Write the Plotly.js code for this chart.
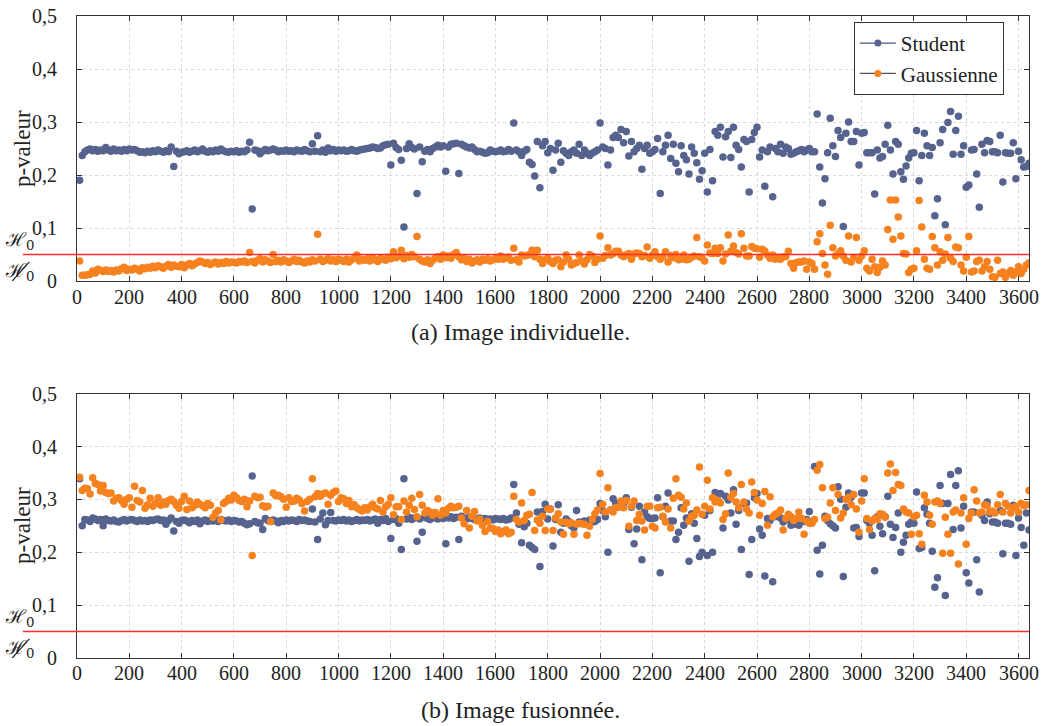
<!DOCTYPE html>
<html>
<head>
<meta charset="utf-8">
<script src="https://cdn.plot.ly/plotly-3.0.1.min.js"></script>
<style>html,body{margin:0;padding:0;background:#fff;}#chart{width:1042px;height:726px;}</style>
</head>
<body>
<div id="chart"></div>
<script>
// Frame step between samples (x axis = image index)
const frameStep = 10;

// (a) Image individuelle — Student
const indivStudent = [
0.190,0.237,0.244,0.247,0.249,0.246,0.248,0.245,0.247,0.246,
0.252,0.247,0.245,0.249,0.246,0.247,0.245,0.248,0.246,0.249,
0.247,0.248,0.246,0.243,0.244,0.242,0.245,0.243,0.246,0.244,
0.247,0.245,0.243,0.246,0.244,0.253,0.216,0.245,0.240,0.243,
0.244,0.246,0.243,0.245,0.247,0.244,0.246,0.249,0.245,0.243,
0.246,0.244,0.247,0.245,0.249,0.246,0.244,0.243,0.245,0.244,
0.246,0.243,0.245,0.244,0.247,0.262,0.136,0.247,0.246,0.240,
0.245,0.248,0.246,0.247,0.249,0.247,0.244,0.246,0.245,0.247,
0.245,0.246,0.244,0.247,0.246,0.245,0.248,0.246,0.244,0.259,
0.245,0.274,0.244,0.247,0.243,0.251,0.246,0.248,0.245,0.247,
0.246,0.247,0.245,0.246,0.248,0.246,0.245,0.247,0.248,0.249,
0.250,0.251,0.253,0.252,0.250,0.251,0.255,0.257,0.258,0.219,
0.260,0.252,0.248,0.228,0.102,0.250,0.259,0.252,0.249,0.165,
0.253,0.225,0.245,0.248,0.244,0.250,0.253,0.256,0.253,0.255,
0.207,0.253,0.258,0.259,0.260,0.203,0.258,0.255,0.253,0.251,
0.253,0.248,0.244,0.245,0.243,0.241,0.242,0.247,0.245,0.244,
0.245,0.247,0.244,0.245,0.248,0.245,0.298,0.247,0.244,0.237,
0.245,0.248,0.224,0.220,0.198,0.263,0.176,0.255,0.263,0.242,
0.250,0.209,0.247,0.260,0.224,0.246,0.241,0.237,0.244,0.247,
0.241,0.258,0.237,0.247,0.241,0.237,0.241,0.244,0.247,0.298,
0.253,0.250,0.219,0.247,0.271,0.275,0.271,0.286,0.261,0.282,
0.236,0.263,0.244,0.250,0.256,0.211,0.250,0.256,0.241,0.244,
0.248,0.269,0.165,0.244,0.256,0.275,0.231,0.258,0.222,0.206,
0.255,0.237,0.229,0.202,0.253,0.241,0.223,0.192,0.208,0.241,
0.168,0.248,0.189,0.282,0.275,0.290,0.234,0.272,0.282,0.233,
0.290,0.256,0.248,0.215,0.267,0.263,0.168,0.267,0.280,0.290,
0.234,0.247,0.179,0.244,0.253,0.159,0.250,0.244,0.258,0.241,
0.253,0.250,0.239,0.241,0.244,0.246,0.248,0.244,0.247,0.250,
0.244,0.244,0.315,0.215,0.147,0.193,0.242,0.307,0.255,0.235,
0.284,0.271,0.103,0.279,0.300,0.263,0.263,0.282,0.219,0.279,
0.280,0.242,0.242,0.242,0.164,0.247,0.232,0.235,0.258,0.294,
0.247,0.202,0.263,0.258,0.206,0.192,0.217,0.232,0.241,0.242,
0.284,0.189,0.237,0.279,0.255,0.237,0.252,0.123,0.155,0.261,
0.286,0.106,0.299,0.320,0.239,0.284,0.311,0.239,0.255,0.177,
0.181,0.247,0.248,0.202,0.139,0.258,0.242,0.265,0.263,0.244,
0.244,0.242,0.275,0.187,0.242,0.241,0.241,0.261,0.193,0.245,
0.229,0.215,0.216,0.222
];

// (a) Image individuelle — Gaussienne
const indivGauss = [
0.038,0.011,0.011,0.012,0.013,0.019,0.015,0.022,0.020,0.018,
0.021,0.018,0.020,0.017,0.021,0.019,0.023,0.026,0.020,0.022,
0.021,0.024,0.022,0.019,0.025,0.023,0.026,0.024,0.028,0.025,
0.029,0.027,0.024,0.028,0.031,0.026,0.030,0.028,0.027,0.031,
0.025,0.030,0.033,0.029,0.032,0.035,0.038,0.036,0.033,0.035,
0.031,0.034,0.036,0.032,0.035,0.033,0.037,0.034,0.036,0.035,
0.034,0.037,0.036,0.038,0.035,0.054,0.037,0.034,0.039,0.042,
0.036,0.040,0.038,0.035,0.050,0.037,0.039,0.036,0.040,0.038,
0.035,0.038,0.041,0.037,0.039,0.036,0.034,0.038,0.036,0.040,
0.038,0.088,0.041,0.037,0.039,0.042,0.038,0.040,0.037,0.041,
0.039,0.037,0.041,0.036,0.040,0.043,0.049,0.038,0.041,0.039,
0.042,0.038,0.044,0.040,0.037,0.043,0.041,0.039,0.045,0.042,
0.055,0.044,0.047,0.058,0.042,0.048,0.045,0.050,0.046,0.084,
0.041,0.038,0.036,0.040,0.033,0.039,0.043,0.046,0.041,0.049,
0.044,0.047,0.043,0.050,0.054,0.046,0.040,0.043,0.037,0.041,
0.034,0.038,0.040,0.036,0.041,0.039,0.042,0.038,0.040,0.043,
0.041,0.047,0.041,0.044,0.045,0.039,0.062,0.040,0.036,0.049,
0.047,0.048,0.050,0.058,0.046,0.058,0.041,0.033,0.040,0.043,
0.037,0.033,0.039,0.040,0.027,0.036,0.049,0.041,0.030,0.033,
0.035,0.049,0.038,0.032,0.040,0.050,0.047,0.035,0.041,0.085,
0.043,0.048,0.063,0.049,0.052,0.056,0.056,0.049,0.046,0.049,
0.052,0.041,0.051,0.053,0.052,0.046,0.048,0.064,0.043,0.049,
0.055,0.046,0.041,0.046,0.055,0.036,0.048,0.044,0.050,0.040,
0.041,0.049,0.040,0.041,0.045,0.047,0.082,0.046,0.044,0.038,
0.068,0.053,0.052,0.062,0.052,0.063,0.038,0.051,0.087,0.056,
0.066,0.054,0.051,0.089,0.062,0.047,0.047,0.065,0.062,0.061,
0.045,0.060,0.056,0.049,0.043,0.049,0.041,0.045,0.041,0.046,
0.046,0.056,0.033,0.024,0.035,0.036,0.036,0.038,0.022,0.036,
0.033,0.022,0.074,0.089,0.052,0.030,0.013,0.105,0.063,0.047,
0.051,0.057,0.047,0.039,0.085,0.036,0.045,0.082,0.039,0.047,
0.057,0.024,0.019,0.041,0.027,0.016,0.026,0.038,0.030,0.097,
0.153,0.079,0.153,0.121,0.085,0.052,0.051,0.016,0.022,0.024,
0.057,0.152,0.102,0.041,0.024,0.022,0.084,0.063,0.030,0.055,
0.039,0.051,0.082,0.043,0.037,0.064,0.063,0.030,0.019,0.045,
0.084,0.017,0.019,0.037,0.039,0.019,0.027,0.037,0.022,0.008,
0.007,0.039,0.014,0.017,0.007,0.014,0.020,0.011,0.017,0.027,
0.014,0.022,0.030,0.034
];

// (b) Image fusionnée — Student
const fusedStudent = [
0.339,0.250,0.262,0.261,0.258,0.265,0.263,0.260,0.262,0.250,
0.263,0.260,0.259,0.261,0.258,0.257,0.260,0.262,0.259,0.261,
0.262,0.260,0.258,0.261,0.259,0.260,0.258,0.261,0.260,0.262,
0.263,0.260,0.261,0.253,0.260,0.265,0.240,0.258,0.255,0.260,
0.261,0.259,0.256,0.260,0.258,0.261,0.254,0.259,0.261,0.258,
0.260,0.259,0.261,0.258,0.262,0.260,0.259,0.261,0.258,0.260,
0.259,0.257,0.258,0.255,0.252,0.254,0.344,0.258,0.256,0.255,
0.243,0.264,0.260,0.258,0.261,0.259,0.256,0.260,0.258,0.261,
0.259,0.261,0.260,0.258,0.262,0.260,0.261,0.259,0.258,0.282,
0.257,0.224,0.263,0.274,0.252,0.260,0.275,0.260,0.259,0.261,
0.260,0.262,0.259,0.261,0.258,0.260,0.262,0.259,0.261,0.260,
0.262,0.259,0.261,0.263,0.255,0.262,0.260,0.264,0.258,0.226,
0.262,0.264,0.255,0.205,0.339,0.263,0.266,0.262,0.265,0.221,
0.263,0.238,0.266,0.264,0.262,0.267,0.265,0.263,0.266,0.264,
0.216,0.265,0.267,0.264,0.266,0.224,0.268,0.265,0.263,0.266,
0.264,0.262,0.263,0.265,0.263,0.264,0.262,0.263,0.261,0.264,
0.263,0.262,0.264,0.261,0.262,0.265,0.328,0.274,0.253,0.218,
0.248,0.255,0.213,0.209,0.205,0.276,0.173,0.277,0.291,0.263,
0.282,0.212,0.262,0.290,0.238,0.255,0.263,0.258,0.250,0.246,
0.279,0.257,0.256,0.259,0.255,0.261,0.257,0.258,0.262,0.292,
0.279,0.267,0.200,0.280,0.301,0.292,0.288,0.295,0.290,0.303,
0.243,0.285,0.216,0.244,0.287,0.186,0.276,0.267,0.264,0.264,
0.265,0.303,0.161,0.267,0.287,0.312,0.259,0.259,0.224,0.238,
0.284,0.251,0.265,0.183,0.273,0.255,0.226,0.192,0.200,0.270,
0.194,0.279,0.200,0.313,0.299,0.311,0.246,0.306,0.299,0.274,
0.318,0.253,0.279,0.205,0.292,0.293,0.158,0.224,0.303,0.311,
0.244,0.232,0.155,0.264,0.260,0.144,0.267,0.273,0.265,0.257,
0.264,0.262,0.251,0.255,0.253,0.251,0.264,0.258,0.262,0.277,
0.257,0.362,0.204,0.159,0.213,0.268,0.260,0.254,0.250,0.246,
0.324,0.300,0.154,0.285,0.312,0.304,0.246,0.247,0.230,0.312,
0.312,0.260,0.255,0.232,0.165,0.267,0.249,0.235,0.267,0.306,
0.253,0.228,0.247,0.274,0.200,0.219,0.232,0.253,0.257,0.255,
0.314,0.207,0.209,0.284,0.272,0.255,0.202,0.134,0.152,0.326,
0.292,0.118,0.292,0.347,0.243,0.326,0.354,0.246,0.287,0.161,
0.142,0.276,0.276,0.186,0.125,0.270,0.260,0.295,0.273,0.257,
0.257,0.255,0.279,0.197,0.255,0.255,0.253,0.289,0.194,0.265,
0.247,0.213,0.274,0.242
];

// (b) Image fusionnée — Gaussienne
const fusedGauss = [
0.342,0.317,0.321,0.320,0.310,0.341,0.330,0.328,0.316,0.326,
0.313,0.311,0.312,0.297,0.302,0.303,0.298,0.291,0.300,0.303,
0.285,0.325,0.298,0.295,0.317,0.283,0.290,0.302,0.287,0.292,
0.303,0.289,0.295,0.291,0.298,0.300,0.296,0.289,0.283,0.296,
0.306,0.281,0.297,0.284,0.289,0.295,0.291,0.288,0.284,0.292,
0.289,0.266,0.274,0.279,0.261,0.292,0.296,0.302,0.299,0.308,
0.303,0.298,0.296,0.300,0.286,0.297,0.194,0.306,0.303,0.304,
0.288,0.285,0.287,0.258,0.312,0.307,0.308,0.305,0.300,0.285,
0.303,0.296,0.297,0.302,0.299,0.292,0.278,0.296,0.300,0.339,
0.305,0.311,0.306,0.310,0.312,0.291,0.308,0.313,0.316,0.296,
0.303,0.301,0.292,0.298,0.286,0.290,0.284,0.281,0.278,0.284,
0.280,0.286,0.291,0.284,0.282,0.298,0.276,0.286,0.291,0.303,
0.271,0.286,0.286,0.262,0.297,0.276,0.289,0.302,0.281,0.267,
0.309,0.289,0.274,0.279,0.276,0.270,0.275,0.301,0.270,0.279,
0.274,0.283,0.287,0.284,0.285,0.287,0.265,0.254,0.279,0.246,
0.268,0.277,0.259,0.263,0.251,0.239,0.258,0.246,0.245,0.239,
0.242,0.235,0.239,0.242,0.235,0.238,0.306,0.262,0.257,0.293,
0.260,0.270,0.272,0.313,0.241,0.261,0.255,0.268,0.241,0.282,
0.282,0.241,0.265,0.273,0.257,0.234,0.257,0.254,0.256,0.234,
0.253,0.255,0.254,0.253,0.232,0.249,0.262,0.273,0.280,0.349,
0.291,0.276,0.322,0.280,0.276,0.284,0.285,0.297,0.284,0.298,
0.249,0.287,0.297,0.260,0.272,0.259,0.242,0.287,0.287,0.249,
0.246,0.284,0.285,0.268,0.257,0.282,0.246,0.302,0.339,0.308,
0.304,0.282,0.293,0.259,0.268,0.270,0.280,0.361,0.272,0.287,
0.336,0.282,0.303,0.295,0.298,0.293,0.262,0.273,0.350,0.304,
0.311,0.295,0.284,0.328,0.295,0.282,0.274,0.333,0.313,0.299,
0.270,0.292,0.315,0.251,0.305,0.267,0.272,0.274,0.280,0.242,
0.264,0.272,0.267,0.260,0.264,0.276,0.264,0.234,0.259,0.255,
0.255,0.262,0.355,0.366,0.322,0.264,0.266,0.293,0.322,0.279,
0.309,0.265,0.274,0.300,0.304,0.290,0.309,0.282,0.238,0.297,
0.339,0.264,0.243,0.259,0.264,0.262,0.273,0.272,0.266,0.350,
0.367,0.317,0.351,0.328,0.326,0.282,0.276,0.274,0.234,0.267,
0.270,0.235,0.215,0.308,0.295,0.270,0.253,0.295,0.297,0.292,
0.198,0.266,0.234,0.198,0.276,0.280,0.178,0.274,0.303,0.215,
0.264,0.274,0.318,0.297,0.274,0.276,0.290,0.288,0.276,0.278,
0.274,0.290,0.309,0.276,0.292,0.287,0.274,0.284,0.287,0.276,
0.292,0.288,0.290,0.317
];

const seriesNames = ["Student", "Gaussienne"];
const captions = ["(a) Image individuelle.", "(b) Image fusionnée."];
const yTickVals = [0, 0.1, 0.2, 0.3, 0.4, 0.5];
const yTickText = ["0", "0,1", "0,2", "0,3", "0,4", "0,5"];
const xTickVals = [0,200,400,600,800,1000,1200,1400,1600,1800,2000,2200,2400,2600,2800,3000,3200,3400,3600];
const threshold = 0.05;
const yTitle = "p-valeur";

const frames = indivStudent.map((_, i) => (i + 1) * frameStep);

const blue = "#56638e";
const orange = "#f5821f";
const FONT = "Liberation Serif";
const TICK_SIZE = 20;

function pts(y, color, xa, ya) {
  return {x: frames, y: y, type: "scatter", mode: "markers",
    marker: {size: 7.5, color: color, line: {width: 0}},
    xaxis: xa, yaxis: ya, showlegend: false, hoverinfo: "skip"};
}

const traces = [
  pts(indivStudent, blue, "x", "y"),
  pts(indivGauss, orange, "x", "y"),
  pts(fusedStudent, blue, "x2", "y2"),
  pts(fusedGauss, orange, "x2", "y2"),
  {x: [-1000], y: [-1], type: "scatter", mode: "lines+markers", name: seriesNames[0],
   line: {color: "#4a5680", width: 1.2}, marker: {size: 7, color: blue}, xaxis: "x", yaxis: "y"},
  {x: [-1000], y: [-1], type: "scatter", mode: "lines+markers", name: seriesNames[1],
   line: {color: "#555", width: 1.2}, marker: {size: 7, color: orange}, xaxis: "x", yaxis: "y"}
];

function xAxis(anchor) {
  return {range: [0, 3640], anchor: anchor, tickmode: "array", tickvals: xTickVals,
    ticks: "inside", ticklen: 5, showticklabels: false,
    tickcolor: "#333", showline: true, linecolor: "#333", linewidth: 1, mirror: "ticks",
    showgrid: true, gridcolor: "#d9d9d9", griddash: "dot", gridwidth: 1, zeroline: false,
    fixedrange: true};
}
function yAxis(anchor, domain) {
  return {range: [0, 0.5], anchor: anchor, domain: domain, tickmode: "array",
    tickvals: yTickVals, showticklabels: false,
    ticks: "inside", ticklen: 5, tickcolor: "#333", showline: true, linecolor: "#333", linewidth: 1,
    mirror: "ticks", showgrid: true, gridcolor: "#d9d9d9", griddash: "dot", gridwidth: 1,
    zeroline: false, fixedrange: true};
}

const topDom = [0.5872, 1];
const botDom = [0, 0.4118];

// Tick labels placed on the axes' own scales
function tickLabels(xref, yref, xLabelY) {
  const out = [];
  xTickVals.forEach(v => out.push({xref: xref, yref: "paper", x: v, y: xLabelY, text: String(v),
    showarrow: false, xanchor: "center", yanchor: "middle",
    font: {family: FONT, size: TICK_SIZE, color: "#222"}}));
  yTickVals.forEach((v, i) => out.push({xref: "paper", yref: yref, x: -0.019, y: v, text: yTickText[i],
    showarrow: false, xanchor: "right", yanchor: "middle",
    font: {family: FONT, size: TICK_SIZE, color: "#222"}}));
  return out;
}

function h0Annots(yref) {
  return [
    {xref: "paper", yref: yref, x: -0.043, y: 0.076, text: "ℋ<sub>0</sub>", showarrow: false,
     font: {family: "DejaVu Serif", size: 19, color: "#222"}, xanchor: "right", yanchor: "middle"},
    {xref: "paper", yref: yref, x: -0.043, y: 0.018, text: "ℋ<sub>0</sub>", showarrow: false,
     font: {family: "DejaVu Serif", size: 19, color: "#222"}, xanchor: "right", yanchor: "middle"}
  ];
}
function h0Shapes(yref) {
  return [
    {type: "line", xref: "paper", yref: yref, x0: -0.0568, x1: 1, y0: threshold, y1: threshold,
     line: {color: "#ff2a2a", width: 1.5}, layer: "above"},
    {type: "line", xref: "paper", yref: yref, x0: -0.068, y0: 0.0, x1: -0.05, y1: 0.036,
     line: {color: "#222", width: 1.2}, layer: "above"}
  ];
}

const layout = {
  width: 1042, height: 726,
  margin: {l: 77, r: 13, t: 16, b: 68},
  paper_bgcolor: "#fff", plot_bgcolor: "#fff",
  separators: ",.",
  font: {family: FONT, size: 20, color: "#222"},
  xaxis: xAxis("y"),
  yaxis: yAxis("x", topDom),
  xaxis2: xAxis("y2"),
  yaxis2: yAxis("x2", botDom),
  showlegend: true,
  legend: {x: 0.816, y: 0.9907, xanchor: "left", yanchor: "top", bgcolor: "#fff",
    bordercolor: "#333", borderwidth: 1, font: {family: FONT, size: 21, color: "#222"},
    tracegroupgap: 0, itemwidth: 36},
  shapes: [].concat(h0Shapes("y"), h0Shapes("y2")),
  annotations: [].concat(
    tickLabels("x", "y", 0.5625),
    tickLabels("x2", "y2", -0.0235),
    h0Annots("y"), h0Annots("y2"), [
    {xref: "paper", yref: "paper", x: -0.058, y: 0.794, text: yTitle, textangle: -90, showarrow: false,
     font: {family: FONT, size: 23, color: "#222"}, xanchor: "center", yanchor: "middle"},
    {xref: "paper", yref: "paper", x: -0.058, y: 0.207, text: yTitle, textangle: -90, showarrow: false,
     font: {family: FONT, size: 23, color: "#222"}, xanchor: "center", yanchor: "middle"},
    {xref: "paper", yref: "paper", x: 0.466, y: 0.5078, text: captions[0], showarrow: false,
     font: {family: FONT, size: 24, color: "#222"}, xanchor: "center", yanchor: "middle"},
    {xref: "paper", yref: "paper", x: 0.466, y: -0.081, text: captions[1], showarrow: false,
     font: {family: FONT, size: 24, color: "#222"}, xanchor: "center", yanchor: "middle"}
  ])
};

Plotly.newPlot("chart", traces, layout, {displayModeBar: false, staticPlot: true});
</script>
</body>
</html>
